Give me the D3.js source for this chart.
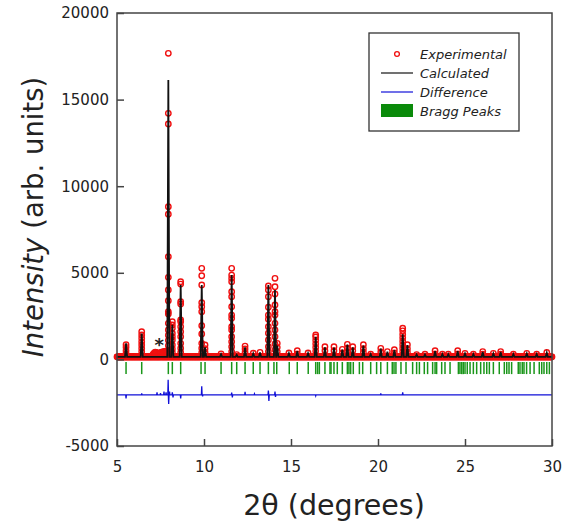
<!DOCTYPE html>
<html>
<head>
<meta charset="utf-8">
<script src="https://cdn.jsdelivr.net/npm/d3@7"></script>
<style>
  body { margin: 0; background: #fff; }
  text { font-family: "DejaVu Sans", sans-serif; fill: #222; }
</style>
</head>
<body>
<svg id="chart" width="568" height="528"></svg>
<script>
const peakAngle = [5.52, 6.42, 7.95, 8.18, 8.66, 9.87, 10.06, 10.98, 11.59, 11.88, 12.36, 12.83, 13.22,
  13.70, 14.08, 14.21, 14.88, 15.36, 15.98, 16.42, 16.95, 17.47, 17.95, 18.24, 18.55, 19.16, 19.58,
  20.16, 20.54, 20.94, 21.42, 21.69, 22.22, 22.70, 23.28, 23.70, 24.04, 24.58, 25.00, 25.48, 26.02,
  26.63, 27.05, 27.78, 28.55, 29.12, 29.70];
const calcHeight = [930, 1500, 16130, 2000, 4300, 4300, 700, 300, 4870, 260, 700, 330, 400,
  4300, 4000, 800, 350, 480, 350, 1300, 700, 680, 560, 850, 700, 800, 300,
  620, 440, 540, 1450, 820, 280, 280, 480, 300, 290, 480, 330, 300, 430,
  330, 430, 300, 330, 300, 380];
const obsPoints = [
  [850, 700, 500, 330],
  [1600, 1410, 1220, 1020, 830, 640, 450],
  [17670, 14210, 13590, 8820, 8380, 5930, 4740, 4010, 3390, 2750, 2620, 2080, 1700, 1400, 1100, 800, 500, 350],
  [2180, 1990, 1800, 1510, 1310, 1120, 830, 600, 400],
  [4490, 4350, 3330, 3200, 2280, 2180, 1890, 1600, 1310, 930, 650, 400],
  [5260, 4830, 4300, 3270, 3040, 2750, 1950, 1470, 930, 650, 400],
  [830, 620, 420],
  [320],
  [5260, 4870, 4680, 4490, 3910, 3620, 3040, 2560, 2370, 1890, 1700, 1310, 1020, 730, 450],
  [280],
  [770, 600, 420],
  [360],
  [410],
  [4240, 4010, 3620, 3010, 2560, 2320, 1890, 1510, 1120, 730, 450],
  [4680, 4200, 3780, 3140, 2750, 2560, 2080, 1700, 1310, 890, 550],
  [930, 700, 450],
  [370],
  [500, 320],
  [370],
  [1410, 1300, 1100, 900, 700, 480],
  [730, 500],
  [730, 500],
  [580, 380],
  [870, 650, 450],
  [730, 500],
  [845, 620, 420],
  [300],
  [640, 430],
  [450],
  [560, 380],
  [1800, 1650, 1450, 1250, 1050, 850, 650, 450],
  [845, 620, 420],
  [280],
  [300],
  [500, 320],
  [300],
  [300],
  [500, 320],
  [350],
  [300],
  [450, 300],
  [350],
  [450, 300],
  [300],
  [350],
  [300],
  [400]
];

// impurity hump marked with *
const humpAngle = [7.02, 7.08, 7.14, 7.20, 7.26, 7.32, 7.38, 7.44, 7.50, 7.56, 7.62, 7.68, 7.74, 7.80, 7.86];
const humpValue = [220, 300, 380, 420, 400, 360, 330, 350, 390, 420, 440, 430, 460, 480, 450];

const background = 150;
const scanStep = 0.02;

// Bragg reflection positions
const braggAngle = [5.52, 6.42, 7.95, 8.18, 8.66, 9.83, 10.06, 10.98, 11.59, 11.88, 12.36, 12.83, 13.22,
  13.70, 14.02, 14.18, 14.90, 15.36, 15.99, 16.42, 16.53, 16.63, 16.95, 17.24, 17.30, 17.47, 17.66,
  17.95, 18.24, 18.33, 18.43, 18.58, 18.93, 19.12, 19.58, 19.92, 20.16, 20.54, 20.82, 20.92, 21.03,
  21.32, 21.61, 21.99, 22.22, 22.38, 22.66, 22.85, 23.14, 23.28, 23.37, 23.66, 23.85, 24.14, 24.62,
  24.71, 24.81, 24.90, 25.00, 25.13, 25.29, 25.48, 25.67, 25.90, 26.09, 26.25, 26.40, 26.63, 26.97,
  27.26, 27.40, 27.53, 27.68, 28.06, 28.16, 28.29, 28.39, 28.54, 28.74, 28.97, 29.27, 29.41, 29.54,
  29.70, 29.85];

// difference curve: offset and spikes
const diffOffset = -2050;
const diffAngle = [5.52, 6.42, 7.30, 7.50, 7.70, 7.82, 7.94, 7.97, 8.02, 8.18, 8.22, 8.66, 9.87, 9.92,
  11.59, 11.63, 12.36, 12.90, 13.70, 13.73, 14.08, 14.11, 16.42, 20.16, 21.42];
const diffValue = [-200, 80, 150, 100, 200, 150, 870, -520, 200, 150, -150, -200, 500, -80,
  130, -150, 180, 60, 250, -350, 200, -120, -60, 80, 150];

const xTicks = [5, 10, 15, 20, 25, 30];
const yTicks = [-5000, 0, 5000, 10000, 15000, 20000];

const svg = d3.select('#chart');
const x = d3.scaleLinear().domain([5, 30]).range([117, 552]);
const y = d3.scaleLinear().domain([-5000, 20000]).range([446, 13]);

const plot = svg.append('g');
const red = '#f01010';

// observed: baseline scan points
const scan = d3.range(5, 30 + 1e-9, scanStep);
plot.selectAll('.base')
  .data(scan)
  .enter()
  .append('circle')
  .attr('cx', d => x(d))
  .attr('cy', y(background))
  .attr('r', 2.7)
  .attr('fill', 'none')
  .attr('stroke', red)
  .attr('stroke-width', 1.4);

plot.selectAll('.hump')
  .data(humpAngle)
  .enter()
  .append('circle')
  .attr('cx', d => x(d))
  .attr('cy', (d, i) => y(humpValue[i]))
  .attr('r', 2.7)
  .attr('fill', 'none')
  .attr('stroke', red)
  .attr('stroke-width', 1.4);

const obsFlat = [];
peakAngle.forEach((a, i) => obsPoints[i].forEach(v => obsFlat.push([a, v])));
plot.selectAll('.obs')
  .data(obsFlat)
  .enter()
  .append('circle')
  .attr('cx', d => x(d[0]))
  .attr('cy', d => y(d[1]))
  .attr('r', 2.7)
  .attr('fill', 'none')
  .attr('stroke', red)
  .attr('stroke-width', 1.4);

// calculated
const halfWidth = 0.06;
const calcPts = [[5, background]];
peakAngle.forEach((a, i) => {
  calcPts.push([a - halfWidth, background], [a, calcHeight[i]], [a + halfWidth, background]);
});
calcPts.push([30, background]);
plot.append('path')
  .datum(calcPts)
  .attr('d', d3.line().x(d => x(d[0])).y(d => y(d[1])))
  .attr('fill', 'none')
  .attr('stroke', '#111')
  .attr('stroke-width', 1.8);

// Bragg peaks
plot.selectAll('.bragg')
  .data(braggAngle)
  .enter()
  .append('line')
  .attr('x1', d => x(d))
  .attr('x2', d => x(d))
  .attr('y1', y(-150))
  .attr('y2', y(-850))
  .attr('stroke', '#1a961a')
  .attr('stroke-width', 1.5);

// difference
const diffPts = [[5, diffOffset]];
diffAngle.forEach((a, i) => {
  diffPts.push([a - 0.02, diffOffset], [a, diffOffset + diffValue[i]], [a + 0.02, diffOffset]);
});
diffPts.push([30, diffOffset]);
plot.append('path')
  .datum(diffPts)
  .attr('d', d3.line().x(d => x(d[0])).y(d => y(d[1])))
  .attr('fill', 'none')
  .attr('stroke', '#1010d8')
  .attr('stroke-width', 1.3);

// impurity marker
svg.append('text')
  .attr('x', x(7.43))
  .attr('y', y(1120))
  .attr('dy', '0.6em')
  .attr('text-anchor', 'middle')
  .attr('font-size', 18)
  .attr('font-weight', 'bold')
  .text('*');

// frame and axes
svg.append('rect')
  .attr('x', 117).attr('y', 13).attr('width', 435).attr('height', 433)
  .attr('fill', 'none').attr('stroke', '#444').attr('stroke-width', 1.5);

const xAxis = svg.append('g')
  .attr('transform', 'translate(0,446)')
  .call(d3.axisBottom(x).tickValues(xTicks).tickSizeInner(-7).tickSizeOuter(0).tickPadding(15));
const yAxis = svg.append('g')
  .attr('transform', 'translate(117,0)')
  .call(d3.axisLeft(y).tickValues(yTicks).tickSizeInner(-7).tickSizeOuter(0).tickPadding(8).tickFormat(d => String(d)));
[xAxis, yAxis].forEach(g => {
  g.select('.domain').remove();
  g.selectAll('.tick line').attr('stroke', '#444').attr('stroke-width', 1.5);
  g.selectAll('.tick text').attr('font-size', 15).attr('font-family', '"DejaVu Sans", sans-serif').attr('fill', '#222');
});

// axis titles
const yTitle = svg.append('text')
  .attr('transform', 'translate(43,217) rotate(-90)')
  .attr('text-anchor', 'middle')
  .attr('font-size', 27.5);
yTitle.append('tspan').attr('font-style', 'italic').text('Intensity');
yTitle.append('tspan').text(' (arb. units)');

svg.append('text')
  .attr('x', 334)
  .attr('y', 515)
  .attr('text-anchor', 'middle')
  .attr('font-size', 28.5)
  .text('2θ (degrees)');

// legend
const legend = svg.append('g');
legend.append('rect')
  .attr('x', 369).attr('y', 33).attr('width', 150).attr('height', 98)
  .attr('fill', '#fff').attr('stroke', '#333').attr('stroke-width', 1.3);
const items = ['Experimental', 'Calculated', 'Difference', 'Bragg Peaks'];
items.forEach((t, i) => {
  const cy = 54 + i * 19;
  if (i === 0) {
    legend.append('circle').attr('cx', 397).attr('cy', cy).attr('r', 2.4)
      .attr('fill', 'none').attr('stroke', red).attr('stroke-width', 1.3);
  } else if (i === 1 || i === 2) {
    legend.append('line').attr('x1', 381).attr('x2', 413).attr('y1', cy).attr('y2', cy)
      .attr('stroke', i === 1 ? '#111' : '#1010d8').attr('stroke-width', 1.2);
  } else {
    legend.append('rect').attr('x', 381).attr('y', cy - 7).attr('width', 32).attr('height', 13)
      .attr('fill', '#0a8a0a');
  }
  legend.append('text')
    .attr('x', 420).attr('y', cy + 5)
    .attr('font-size', 13).attr('font-style', 'italic')
    .text(t);
});
</script>
</body>
</html>
